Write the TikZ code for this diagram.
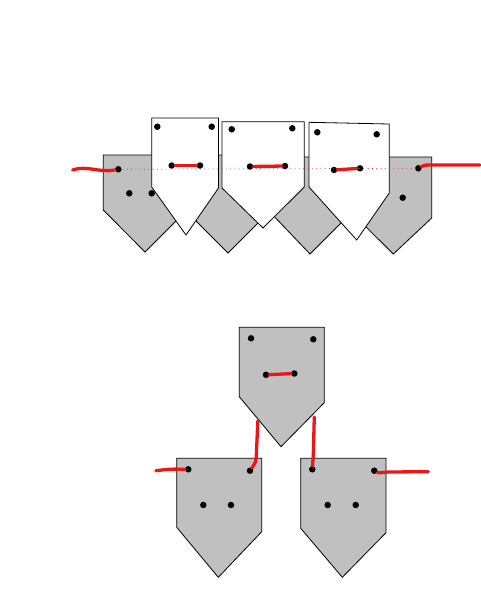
\documentclass[tikz,border=0pt]{standalone}
\usepackage{xcolor}
\usepackage{tikz}
\definecolor{mygray}{RGB}{192,192,192}
\definecolor{myred}{RGB}{236,22,22}
\tikzset{
  graytag/.style={draw=black, fill=mygray, line width=0.8pt},
  whitetag/.style={draw=black, fill=white, line width=0.8pt},
  hole/.style={circle, fill=black, inner sep=0pt, minimum size=6.5pt},
  thread/.style={myred, line width=3.3pt, line cap=round},
  guide/.style={myred, line width=0.7pt, dash pattern=on 0.8pt off 3.5pt}
}

\begin{document}
\begin{tikzpicture}[x=1pt, y=-1pt]
  \useasboundingbox (0,0) rectangle (481,592);

  % top row: gray tags behind the white ones
  \draw[graytag] (103.3,155) -- (187,155) -- (187,210) -- (145,252) -- (103.3,210) -- cycle;
  \draw[graytag] (185,155) -- (270,155) -- (270,211) -- (228,253) -- (185,210) -- cycle;
  \draw[graytag] (268,157) -- (352,157) -- (352,212) -- (310,254) -- (268,210) -- cycle;
  \draw[graytag] (354,157) -- (431.7,157) -- (431.7,218) -- (393.3,254) -- (354,215) -- cycle;
  \node[hole] (lga) at (118.3,169.3) {};
  \node[hole] (lgb) at (129.3,193.3) {};
  \node[hole] (lgc) at (151.7,193.3) {};
  \node[hole] (rga) at (418.3,168.3) {};
  \node[hole] (rgb) at (402.7,197.7) {};

  \draw[whitetag] (151.7,118) -- (218.5,118) -- (218.5,188) -- (186,235) -- (151.7,187) -- cycle;
  \draw[whitetag] (222,121.7) -- (304.3,121.7) -- (304.3,187) -- (263,228) -- (222,188) -- cycle;
  \draw[whitetag] (309,122.3) -- (389.3,124) -- (389.3,193) -- (356.7,240) -- (309,187) -- cycle;
  \node[hole] (wa1) at (157.3,126.7) {};
  \node[hole] (wb1) at (211.7,126.7) {};
  \node[hole] (wc1) at (171.7,165.5) {};
  \node[hole] (wd1) at (200,165.5) {};
  \node[hole] (wa2) at (231.7,129.3) {};
  \node[hole] (wb2) at (292.3,128.3) {};
  \node[hole] (wc2) at (250,166.5) {};
  \node[hole] (wd2) at (285,166) {};
  \node[hole] (wa3) at (317.3,132.3) {};
  \node[hole] (wb3) at (376.7,134.3) {};
  \node[hole] (wc3) at (334,170) {};
  \node[hole] (wd3) at (360,168.3) {};

  \draw[guide] (lga.center) -- (rga.center);

  \coordinate (lend) at (72.7,170);
  \coordinate (rend) at (480,165);
  \draw[thread] (lend) .. controls (86,165) and (100,173) .. (lga);
  \draw[thread] (wc1) -- (wd1);
  \draw[thread] (wc2) -- (wd2);
  \draw[thread] (wc3) -- (wd3);
  \draw[thread] (rga) .. controls (424,165) .. (434,165) -- (rend);

  % bottom group
  \draw[graytag] (239.3,327.3) -- (324.3,327.3) -- (324.3,402.7) -- (281,446.7) -- (239.3,396.7) -- cycle;
  \draw[graytag] (176.7,458.3) -- (261.7,458.3) -- (261.7,531.7) -- (218.3,577.3) -- (176.7,527.3) -- cycle;
  \draw[graytag] (300.7,458.3) -- (386,458.3) -- (386,532.7) -- (342.3,577.3) -- (300.7,528.3) -- cycle;
  \node[hole] (ta0) at (251,338.3) {};
  \node[hole] (tb0) at (313.3,339.3) {};
  \node[hole] (tc0) at (266,374.8) {};
  \node[hole] (td0) at (294.3,373.5) {};
  \node[hole] (ta1) at (188.3,469.3) {};
  \node[hole] (tb1) at (250,470.7) {};
  \node[hole] (tc1) at (203.3,505) {};
  \node[hole] (td1) at (231,505) {};
  \node[hole] (ta2) at (312.3,469.3) {};
  \node[hole] (tb2) at (374.3,470.7) {};
  \node[hole] (tc2) at (327.7,505) {};
  \node[hole] (td2) at (355.7,505) {};

  \coordinate (lknot) at (257.8,421);
  \coordinate (rknot) at (314.3,417);
  \coordinate (bend) at (156,470.7);
  \coordinate (cend) at (428.3,471.7);
  \draw[thread] (tc0) -- (td0);
  \draw[thread] (lknot) -- (256.5,452) .. controls (256,462) .. (tb1);
  \draw[thread] (rknot) -- (313.3,455) -- (ta2);
  \draw[thread] (bend) .. controls (170,469) .. (ta1);
  \draw[thread] (tb2) .. controls (378,473) .. (388,472) -- (cend);
\end{tikzpicture}
\end{document}
